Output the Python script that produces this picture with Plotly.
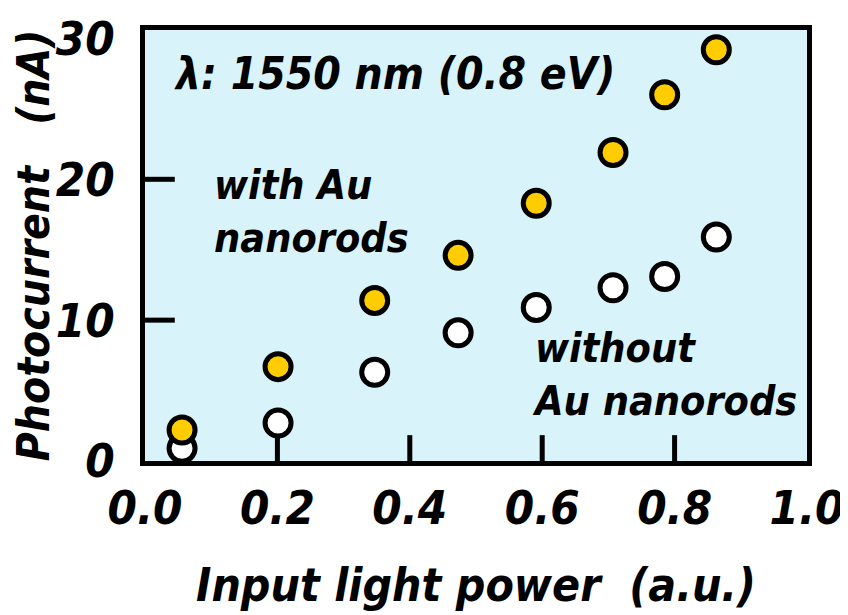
import plotly.graph_objects as go

# Data
power = [0.056, 0.201, 0.347, 0.473, 0.591, 0.707, 0.785, 0.863]
with_au = [2.2, 6.7, 11.4, 14.6, 18.3, 21.9, 26.0, 29.2]
without_au = [0.9, 2.7, 6.3, 9.1, 10.9, 12.3, 13.1, 15.9]

x_ticks = [0.0, 0.2, 0.4, 0.6, 0.8, 1.0]
x_tick_text = ["0.0", "0.2", "0.4", "0.6", "0.8", "1.0"]
y_ticks = [0, 10, 20, 30]
y_tick_text = ["0", "10", "20", "30"]
x_tick_marks = [0.2, 0.4, 0.6, 0.8]
y_tick_marks = [10, 20]

FONT = "Liberation Sans Narrow, DejaVu Sans Condensed, sans-serif"
BG = "#d9f3fa"
YELLOW = "#ffcc00"

fig = go.Figure()
fig.add_trace(go.Scatter(
    x=power, y=without_au, mode="markers", name="without Au nanorods",
    marker=dict(size=26, color="white", line=dict(color="black", width=5)),
))
fig.add_trace(go.Scatter(
    x=power, y=with_au, mode="markers", name="with Au nanorods",
    marker=dict(size=26, color=YELLOW, line=dict(color="black", width=5)),
))

shapes = []
for xv in x_tick_marks:
    shapes.append(dict(type="line", xref="x", yref="paper", x0=xv, x1=xv,
                       y0=0, y1=0.06, line=dict(color="black", width=5), layer="below"))
for yv in y_tick_marks:
    shapes.append(dict(type="line", xref="paper", yref="y", x0=0, x1=0.045,
                       y0=yv, y1=yv, line=dict(color="black", width=5), layer="below"))

tickfont = dict(family=FONT, size=47, color="black", weight="bold", style="italic")
annfont = dict(family=FONT, size=44, color="black", weight="bold", style="italic")
labfont = dict(family=FONT, size=41, color="black", weight="bold", style="italic")
titlefont = dict(family=FONT, size=46, color="black", weight="bold", style="italic")

# The page body adds an 8 px offset, so the figure is 8 px smaller than the window
fig.update_layout(
    width=840, height=607,
    margin=dict(l=137, r=41, t=22, b=154),
    paper_bgcolor="white", plot_bgcolor=BG,
    showlegend=False,
    shapes=shapes,
    xaxis=dict(
        range=[0, 1.0], tickmode="array", tickvals=x_ticks, ticktext=x_tick_text,
        ticks="", showgrid=False, zeroline=False, automargin=False,
        showline=True, linecolor="black", linewidth=5, mirror=True,
        tickfont=tickfont, ticklabelstandoff=2,
        title=dict(text="Input light power\u00a0\u00a0(a.u.)", font=titlefont, standoff=36),
    ),
    yaxis=dict(
        range=[0, 30.6], tickmode="array", tickvals=y_ticks, ticktext=y_tick_text,
        ticks="", showgrid=False, zeroline=False, automargin=False,
        showline=True, linecolor="black", linewidth=5, mirror=True,
        tickfont=tickfont, ticklabelstandoff=16,
        title=dict(text="Photocurrent\u00a0\u00a0\u00a0(nA)", font=annfont, standoff=0),
    ),
    annotations=[
        dict(xref="paper", yref="paper", x=0.041, y=0.898, xanchor="left", yanchor="middle",
             text="λ: 1550 nm (0.8 eV)", showarrow=False, font=annfont, align="left"),
        dict(xref="paper", yref="paper", x=0.101, y=0.58, xanchor="left", yanchor="middle",
             text="with Au<br>nanorods", showarrow=False, font=labfont, align="left"),
        dict(xref="paper", yref="paper", x=0.582, y=0.2, xanchor="left", yanchor="middle",
             text="without<br>Au nanorods", showarrow=False, font=labfont, align="left"),
    ],
)

fig.write_html("out.html")
